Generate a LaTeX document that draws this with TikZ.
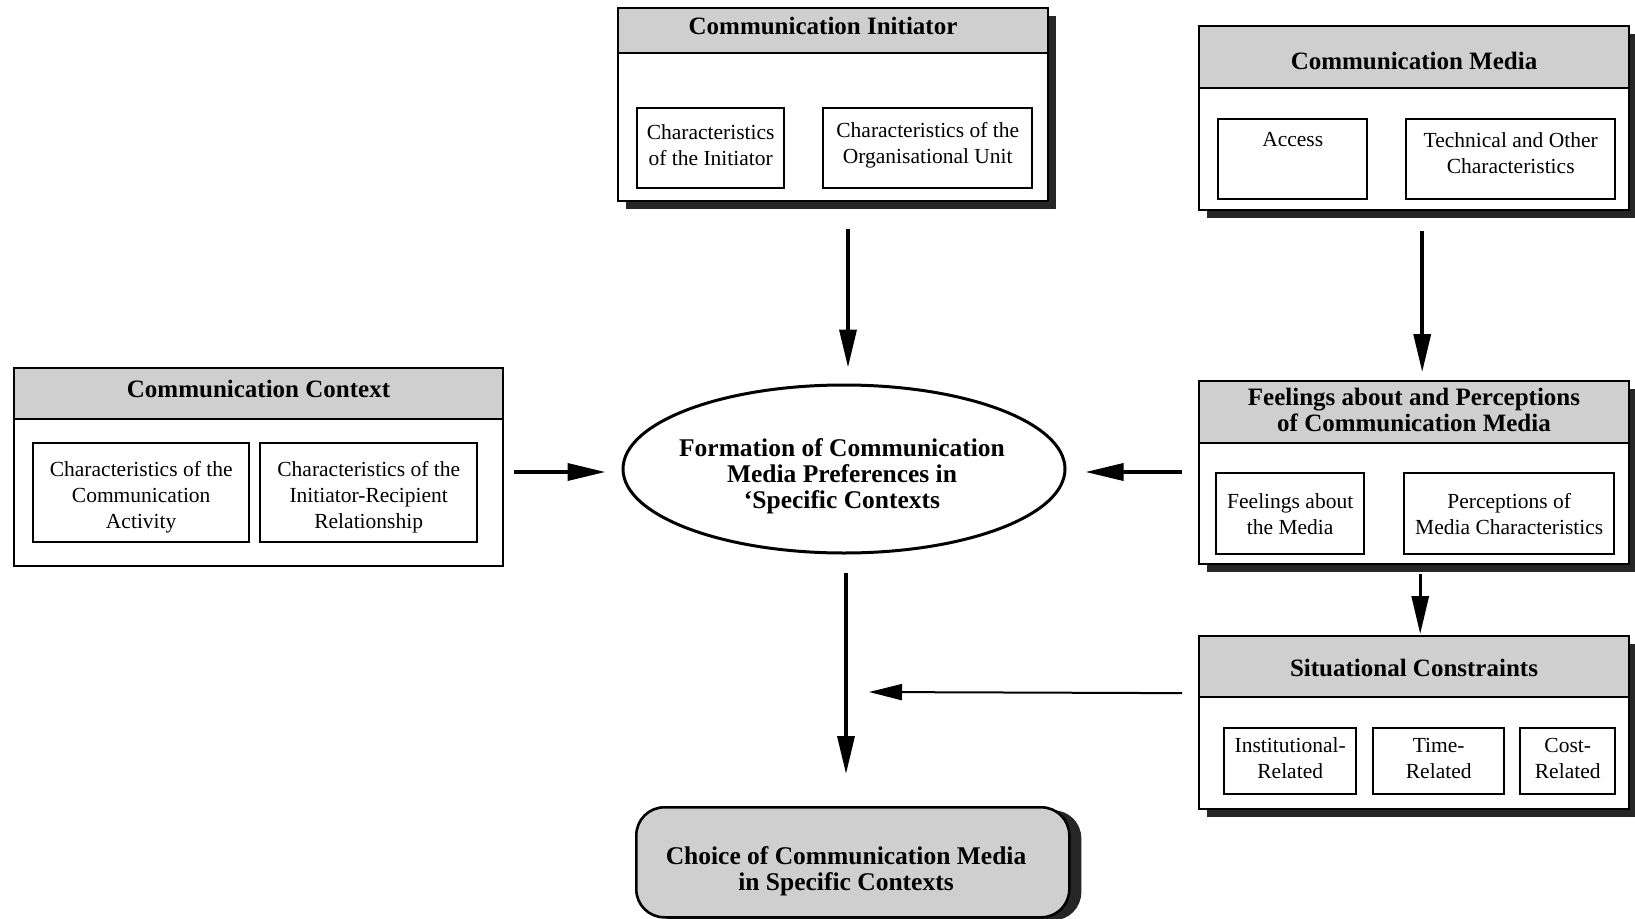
\documentclass[tikz,border=0pt]{standalone}
\usepackage{fontspec}
\setmainfont{Liberation Serif}
\usetikzlibrary{arrows.meta,shapes.geometric,shadows}
\begin{document}
\begin{tikzpicture}[x=1pt,y=-1pt,
  outer/.style={draw, line width=2.4pt, fill=white, anchor=north west, inner sep=0pt},
  outershadow/.style={outer, drop shadow={shadow xshift=8pt, shadow yshift=-8pt, fill=black!85, opacity=1}},
  hdr/.style={draw, line width=2pt, fill=gray!38, anchor=north west, inner sep=0pt},
  hdrtext/.style={align=center, inner sep=0pt, font=\fontsize{25}{25.5}\selectfont\bfseries},
  inbox/.style={draw, line width=2.4pt, fill=white, anchor=north west, inner sep=0pt},
  intext/.style={align=center, inner sep=0pt, font=\fontsize{21.5}{26}\selectfont},
  bigtext/.style={align=center, inner sep=0pt, font=\fontsize{25.5}{26}\selectfont\bfseries},
  arr/.style={line width=3.5pt, -{Triangle[length=38pt,width=17pt]}},
  arrthin/.style={line width=2pt, -{Triangle[length=33pt,width=16pt]}}
]
\clip (0,0) rectangle (1635,918);
\fill[white] (0,0) rectangle (1635,918);

% Communication Initiator
\node[outershadow, minimum width=430pt, minimum height=193pt] (init) at (617,7) {};
\node[hdr, minimum width=430pt, minimum height=45pt] (inith) at (617,7) {};
\node[hdrtext] (initht) at ([xshift=-10pt,yshift=5pt]inith.center) {Communication Initiator};
\node[inbox, minimum width=147pt, minimum height=80pt] (init1) at (636,107) {};
\node[intext] (init1t) at ([yshift=3pt]init1.center) {Characteristics\\of the Initiator};
\node[inbox, minimum width=209pt, minimum height=80pt] (init2) at (822,107) {};
\node[intext] (init2t) at ([yshift=3pt]init2.center) {Characteristics of the\\Organisational Unit};

% Communication Media
\node[outershadow, minimum width=430pt, minimum height=184pt] (media) at (1198,25) {};
\node[hdr, minimum width=430pt, minimum height=62pt] (mediah) at (1198,25) {};
\node[hdrtext] (mediaht) at ([yshift=-4pt]mediah.center) {Communication Media};
\node[inbox, minimum width=149pt, minimum height=80pt] (media1) at (1217,118) {};
\node[intext, anchor=north] (media1t) at ([yshift=-14pt]media1.north) {Access};
\node[inbox, minimum width=209pt, minimum height=80pt] (media2) at (1405,118) {};
\node[intext, anchor=north] (media2t) at ([yshift=-14pt]media2.north) {Technical and Other\\Characteristics};

% Communication Context
\node[outer, minimum width=489pt, minimum height=198pt] (ctx) at (13,367) {};
\node[hdr, minimum width=489pt, minimum height=51pt] (ctxh) at (13,367) {};
\node[hdrtext] (ctxht) at ([yshift=5pt]ctxh.center) {Communication Context};
\node[inbox, minimum width=216pt, minimum height=99pt] (ctx1) at (32,442) {};
\node[intext] (ctx1t) at ([yshift=-5pt]ctx1.center) {Characteristics of the\\Communication\\Activity};
\node[inbox, minimum width=217pt, minimum height=99pt] (ctx2) at (259,442) {};
\node[intext] (ctx2t) at ([yshift=-5pt]ctx2.center) {Characteristics of the\\Initiator-Recipient\\Relationship};

% Feelings
\node[outershadow, minimum width=430pt, minimum height=183pt] (feel) at (1198,380) {};
\node[hdr, minimum width=430pt, minimum height=62pt] (feelh) at (1198,380) {};
\node[hdrtext] (feelht) at ([yshift=2pt]feelh.center) {Feelings about and Perceptions\\of Communication Media};
\node[inbox, minimum width=148pt, minimum height=81pt] (feel1) at (1215,472) {};
\node[intext] (feel1t) at (feel1.center) {Feelings about\\the Media};
\node[inbox, minimum width=210pt, minimum height=81pt] (feel2) at (1403,472) {};
\node[intext] (feel2t) at (feel2.center) {Perceptions of\\Media Characteristics};

% Situational Constraints
\node[outershadow, minimum width=430pt, minimum height=173pt] (sit) at (1198,635) {};
\node[hdr, minimum width=430pt, minimum height=61pt] (sith) at (1198,635) {};
\node[hdrtext] (sitht) at ([yshift=-1pt]sith.center) {Situational Constraints};
\node[inbox, minimum width=132pt, minimum height=66pt] (sit1) at (1223,727) {};
\node[intext] (sit1t) at ([yshift=3pt]sit1.center) {Institutional-\\Related};
\node[inbox, minimum width=131pt, minimum height=66pt] (sit2) at (1372,727) {};
\node[intext] (sit2t) at ([yshift=3pt]sit2.center) {Time-\\Related};
\node[inbox, minimum width=95pt, minimum height=66pt] (sit3) at (1519,727) {};
\node[intext] (sit3t) at ([yshift=3pt]sit3.center) {Cost-\\Related};

% Ellipse
\node[draw, ellipse, line width=3pt, inner sep=0pt, minimum width=442pt, minimum height=168pt] (ell) at (844,469) {};
\node[bigtext] (elltext) at (842,476) {Formation of Communication\\Media Preferences in\\`Specific Contexts};

% Choice
\node[draw, line width=2.6pt, fill=gray!38, rounded corners=28pt, anchor=north west, inner sep=0pt,
  minimum width=433pt, minimum height=110pt,
  drop shadow={shadow xshift=12pt, shadow yshift=-3pt, fill=black!85, opacity=1}] (choice) at (635,806) {};
\node[bigtext] (choicetext) at (846,871) {Choice of Communication Media\\in Specific Contexts};

% Arrows
\draw[arr, shorten <=27pt, shorten >=16pt] ([xshift=4pt]init.south -| ell.north) -- ([xshift=4pt]ell.north);
\draw[arr, shorten <=20pt, shorten >=8pt] ([xshift=8pt]media.south) -- ([xshift=8pt]feel.north);
\draw[arr, shorten <=10pt, shorten >=16pt] ([yshift=-3pt]ctx.east |- ell.west) -- ([yshift=-3pt]ell.west);
\draw[arr, shorten <=16pt, shorten >=19pt] ([yshift=-3pt]feel.west |- ell.east) -- ([yshift=-3pt]ell.east);
\draw[arr, shorten <=18pt, shorten >=32pt] ([xshift=2pt]ell.south) -- ([xshift=2pt]ell.south |- choice.north);
\draw[arr, line width=3pt, shorten <=9pt, shorten >=1pt] ([xshift=6pt]feel.south) -- ([xshift=6pt]sit.north);
\coordinate (join) at (869,692);
\draw[arrthin, shorten <=16pt] ([yshift=29.5pt]sit.west) -- (join);
\end{tikzpicture}
\end{document}
